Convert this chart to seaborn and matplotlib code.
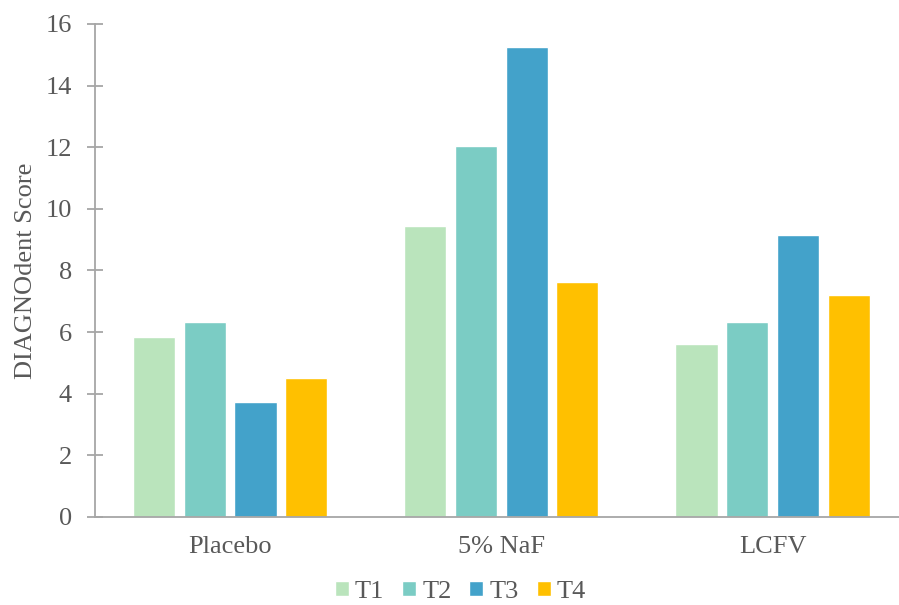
import matplotlib
matplotlib.use("Agg")
import matplotlib.pyplot as plt
import seaborn as sns
import pandas as pd

groups = ["Placebo", "5% NaF", "LCFV"]
times = ["T1", "T2", "T3", "T4"]
t1 = [5.84, 9.44, 5.62]
t2 = [6.34, 12.05, 6.34]
t3 = [3.74, 15.25, 9.14]
t4 = [4.50, 7.62, 7.19]
y_ticks = [0, 2, 4, 6, 8, 10, 12, 14, 16]
colors = ["#BAE4BC", "#7BCCC4", "#43A2CA", "#FFC000"]

rows = []
for tname, vals in zip(times, [t1, t2, t3, t4]):
    for g, v in zip(groups, vals):
        rows.append({"group": g, "time": tname, "score": v})
df = pd.DataFrame(rows)

sns.set_theme(style="white")
plt.rcParams['font.family'] = ['Liberation Serif', 'DejaVu Serif']
text_color = "#595959"
axis_color = "#A6A6A6"

fig = plt.figure(figsize=(8.99, 6.05), dpi=100)
ax = fig.add_axes([0.1052, 0.1455, 0.905, 0.8149])
sns.barplot(data=df, x="group", y="score", hue="time", order=groups,
            hue_order=times, palette=colors, width=0.748, gap=0.17,
            saturation=1, ax=ax, errorbar=None)

ax.set_ylim(0, 16)
ax.set_xlim(-0.5, 2.5)
ax.set_yticks(y_ticks)
ax.set_xlabel("")
ax.set_ylabel("DIAGNOdent Score", fontsize=19, color=text_color, labelpad=6)
for s in ["top", "right"]:
    ax.spines[s].set_visible(False)
for s in ["left", "bottom"]:
    ax.spines[s].set_color(axis_color)
    ax.spines[s].set_linewidth(1.3)
ax.tick_params(axis="y", left=True, direction="inout", length=11.5, width=1.3,
               color=axis_color, labelsize=19, labelcolor=text_color, pad=10.5)
ax.tick_params(axis="x", bottom=False, length=0, labelsize=19,
               labelcolor=text_color, pad=14)

handles, labels = ax.get_legend_handles_labels()
ax.legend(handles, labels, loc="center", bbox_to_anchor=(0.512, 0.0215),
          bbox_transform=fig.transFigure, ncol=4, frameon=False,
          fontsize=19, handlelength=0.53, handleheight=0.53, handletextpad=0.23,
          columnspacing=0.68, labelcolor=text_color, borderpad=0.1)

fig.savefig("out.png", dpi=100)
